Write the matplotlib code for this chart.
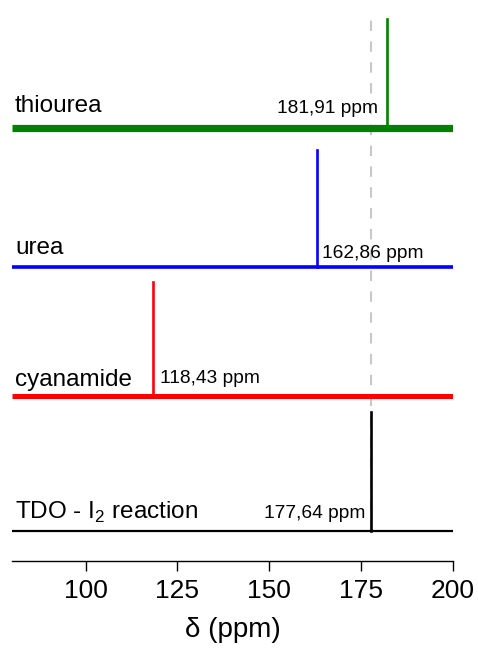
import matplotlib.pyplot as plt

plt.rcParams['font.family'] = ['Liberation Sans', 'DejaVu Sans']
plt.rcParams['mathtext.fontset'] = 'custom'
plt.rcParams['mathtext.rm'] = 'Liberation Sans'

# spectra, bottom to top
names = ['TDO - I$_{\\mathregular{2}}$ reaction', 'cyanamide', 'urea', 'thiourea']
peak_ppm = [177.64, 118.43, 162.86, 181.91]
peak_height = [119, 114, 117, 109]
peak_labels = ['177,64 ppm', '118,43 ppm', '162,86 ppm', '181,91 ppm']
colors = ['black', '#ff0000', '#0000ff', '#008000']
ref_ppm = 177.64

# vertical stacking and label placement
offsets = [30, 165, 294, 433]
noise_lw = [1.6, 3.6, 2.6, 5.2]
name_y = [42, 175, 307, 449]
label_x = [176.1, 120.3, 164.3, 179.5]
label_y = [43, 178, 303, 448]
label_ha = ['right', 'left', 'left', 'right']

fig = plt.figure(figsize=(4.78, 6.56), dpi=100)
ax = fig.add_axes([12 / 478, 95 / 656, 441 / 478, 556 / 656])

# dashed reference line
ax.plot([ref_ppm, ref_ppm], [offsets[0], 549], color='#c8c8c8', lw=1.5,
        dashes=(5, 5), zorder=1)

for i in range(len(names)):
    ax.plot([80, 200], [offsets[i], offsets[i]], color=colors[i],
            lw=noise_lw[i], solid_capstyle='butt', zorder=2)
    ax.plot([peak_ppm[i], peak_ppm[i]], [offsets[i], offsets[i] + peak_height[i]],
            color=colors[i], lw=1.9, zorder=3)
    ax.text(80.8, name_y[i], names[i], fontsize=17.5, va='baseline', ha='left')
    ax.text(label_x[i], label_y[i], peak_labels[i], fontsize=13.8,
            va='baseline', ha=label_ha[i])

ax.set_xlim(80, 200)
ax.set_ylim(0, 556)
ax.set_xticks([100, 125, 150, 175, 200])
ax.set_yticks([])
for side in ['left', 'right', 'top']:
    ax.spines[side].set_visible(False)
ax.spines['bottom'].set_linewidth(1.0)
ax.tick_params(axis='x', direction='out', length=7, width=1.0,
               labelsize=19, pad=6)
ax.set_xlabel('δ (ppm)', fontsize=20, labelpad=10)

fig.savefig('out.png', dpi=100)
